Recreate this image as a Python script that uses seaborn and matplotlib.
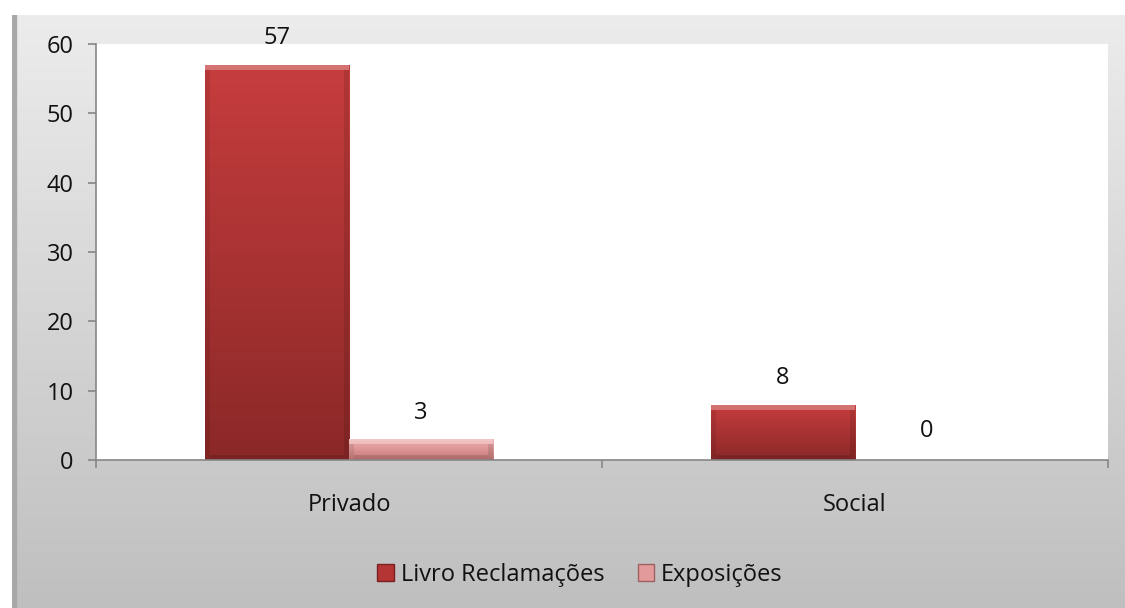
import numpy as np
import pandas as pd
import matplotlib
matplotlib.use("Agg")
import matplotlib.pyplot as plt
from matplotlib.colors import LinearSegmentedColormap
from matplotlib.patches import Patch, Rectangle
import seaborn as sns

# Data
categories = ["Privado", "Social"]
series_names = ["Livro Reclamações", "Exposições"]
livro_values = [57, 8]
exposicoes_values = [3, 0]
y_ticks = [0, 10, 20, 30, 40, 50, 60]

df = pd.DataFrame({
    "categoria": categories * 2,
    "serie": [series_names[0]] * len(categories) + [series_names[1]] * len(categories),
    "valor": livro_values + exposicoes_values,
})

sns.set_theme(style="white")
plt.rcParams["font.family"] = ["Open Sans", "DejaVu Sans"]
FS = 17

W, H = 1125, 608
fig = plt.figure(figsize=(W / 100, H / 100), dpi=100)
fig.patch.set_facecolor("white")

# Grey gradient panel behind the chart
bg = fig.add_axes([12 / W, 0, 1 - 12 / W, (H - 15) / H], zorder=0)
grad = np.linspace(0, 1, 256).reshape(-1, 1)
bg_cmap = LinearSegmentedColormap.from_list("panel", ["#ececec", "#bfbfbf"])
bg.imshow(grad, aspect="auto", cmap=bg_cmap, extent=[0, 1, 0, 1], origin="upper")
bg.add_patch(Rectangle((0, 0), 0.004, 1, color="#a8a8a8", transform=bg.transAxes))
bg.set_axis_off()

ax = fig.add_axes([96 / W, (H - 460) / H, (1108 - 96) / W, (460 - 44) / H], zorder=1)
ax.set_facecolor("white")

palette = {series_names[0]: "#b53434", series_names[1]: "#e39a9a"}
sns.barplot(data=df, x="categoria", y="valor", hue="serie", order=categories,
            hue_order=series_names, palette=palette, width=0.57, gap=0,
            saturation=1, legend=False, ax=ax, edgecolor="none")

ax.set_xlim(-0.5, len(categories) - 0.5)
ax.set_ylim(0, 60)
ax.set_yticks(y_ticks)
ax.set_xlabel("")
ax.set_ylabel("")

# pixel -> data conversion for the bevel strips
px_x = 1.0 * (len(categories)) / (1108 - 96)
px_y = 60.0 / (460 - 44)

# Gradient fill on the bars with a soft bevel
grads = {
    series_names[0]: LinearSegmentedColormap.from_list("r", ["#c73d3d", "#8b2828"]),
    series_names[1]: LinearSegmentedColormap.from_list("p", ["#f0b0b0", "#c87878"]),
}
n = len(categories)
bev = 5
for i, bar in enumerate(ax.patches):
    name = series_names[i // n]
    x0, y0 = bar.get_x(), bar.get_y()
    w, h = bar.get_width(), bar.get_height()
    if h > 0:
        z = bar.get_zorder()
        im = ax.imshow(grad, aspect="auto", cmap=grads[name], origin="upper",
                       extent=[x0, x0 + w, y0, y0 + h], zorder=z + 0.1)
        im.set_clip_path(bar)
        bh = min(bev * px_y, h / 3)
        ax.add_patch(Rectangle((x0, y0 + h - bh), w, bh, color="white", alpha=0.28,
                               lw=0, zorder=z + 0.2))
        ax.add_patch(Rectangle((x0, y0), bev * px_x, h - bh, color="black", alpha=0.08,
                               lw=0, zorder=z + 0.2))
        ax.add_patch(Rectangle((x0 + w - bev * px_x, y0), bev * px_x, h - bh, color="black",
                               alpha=0.10, lw=0, zorder=z + 0.2))
        ax.add_patch(Rectangle((x0 + bev * px_x, y0), w - 2 * bev * px_x, bh, color="black",
                               alpha=0.12, lw=0, zorder=z + 0.2))
    ax.annotate(f"{int(h)}", (x0 + w / 2, y0 + h), xytext=(0, 19 if h > 0 else 21),
                textcoords="offset points", ha="center", va="center",
                fontsize=FS, color="#111111")

ax.set_xlim(-0.5, len(categories) - 0.5)
ax.set_ylim(0, 60)

for s in ["top", "right"]:
    ax.spines[s].set_visible(False)
for s in ["left", "bottom"]:
    ax.spines[s].set_color("#868686")
    ax.spines[s].set_linewidth(1.2)

# Category boundary ticks on x, outward ticks on y
ax.set_xticks(np.arange(-0.5, n, 1.0), minor=False)
ax.set_xticklabels([""] * (n + 1))
ax.set_xticks(range(n), minor=True)
ax.set_xticklabels(categories, minor=True)
ax.tick_params(axis="x", which="major", length=6, width=1.2, color="#868686",
               direction="out", bottom=True)
ax.tick_params(axis="x", which="minor", length=0, pad=24, labelsize=FS,
               labelcolor="#111111")
ax.tick_params(axis="y", length=6, width=1.2, color="#868686", direction="out",
               left=True, pad=10, labelsize=FS, labelcolor="#111111")

handles = [
    Patch(facecolor="#b53434", edgecolor="#7a2020", label=series_names[0]),
    Patch(facecolor="#e39a9a", edgecolor="#a06060", label=series_names[1]),
]
fig.legend(handles=handles, loc="center", bbox_to_anchor=(580 / W, (H - 575) / H),
           ncol=2, frameon=False, fontsize=FS, handlelength=0.7, handleheight=0.7,
           handletextpad=0.3, columnspacing=1.4, labelcolor="#111111")

fig.savefig("out.png", dpi=100, facecolor="white")
